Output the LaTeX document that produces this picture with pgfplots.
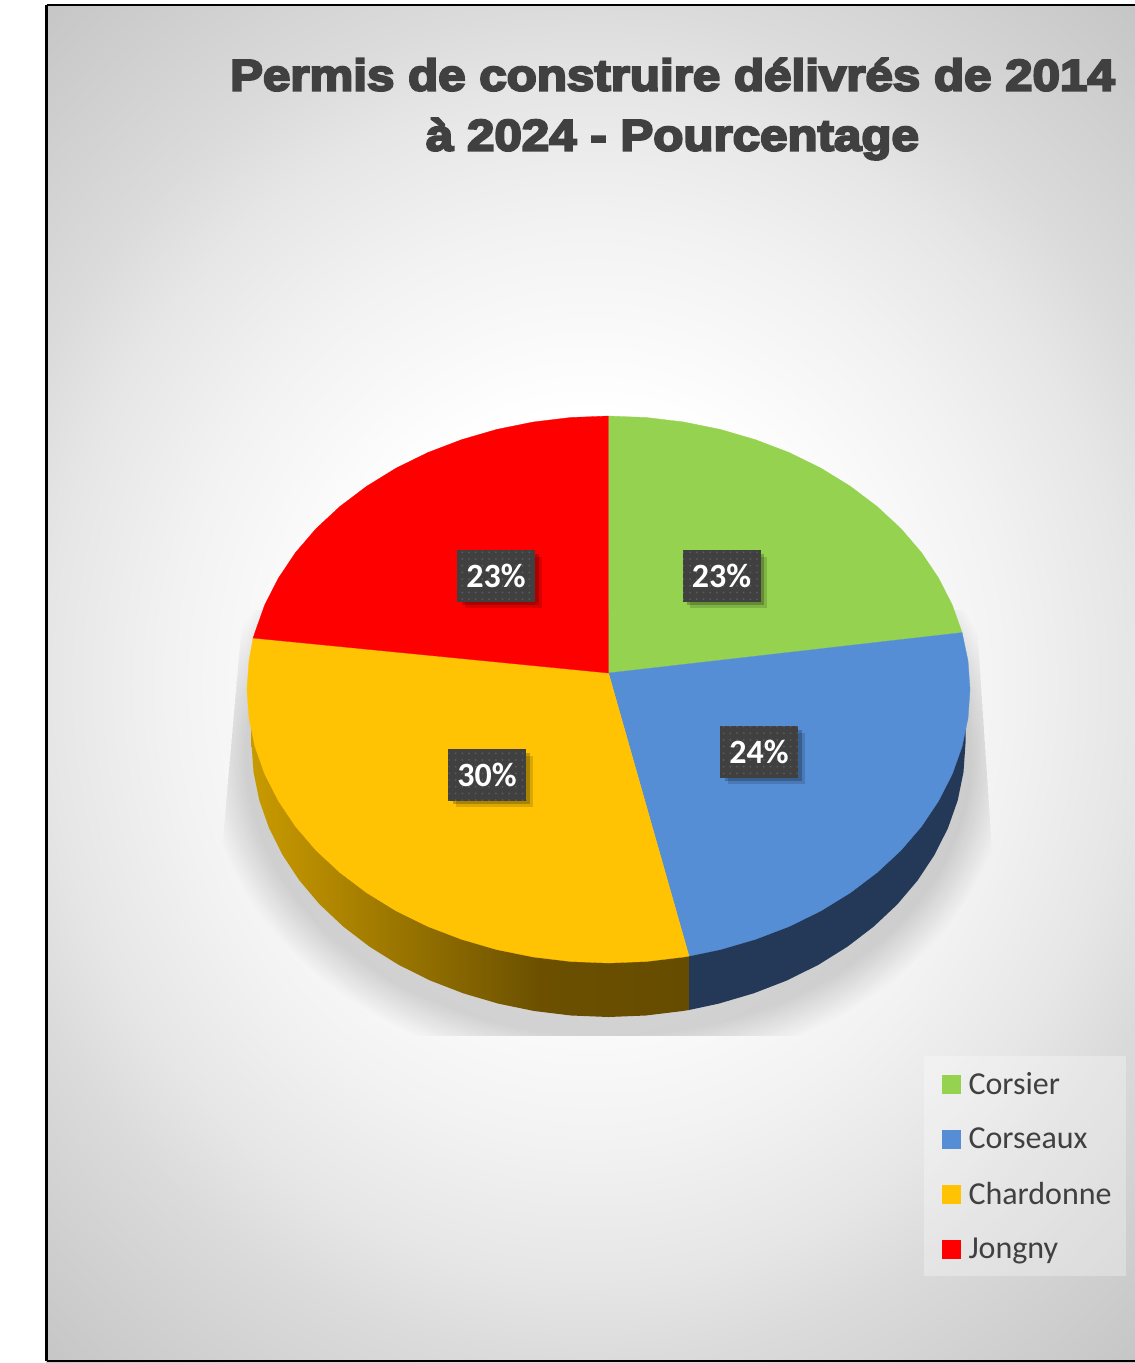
\documentclass[border=0pt]{standalone}
\usepackage{fontspec}
\usepackage{pgfplots}
\pgfplotsset{compat=1.18}
\usetikzlibrary{patterns,shadows}
\setmainfont{Carlito}
\newfontfamily\titlefont[BoldFeatures={FakeBold=5,FakeStretch=1.12}]{Liberation Sans}

\definecolor{corsier}{HTML}{94D250}
\definecolor{corseaux}{HTML}{558ED5}
\definecolor{chardonne}{HTML}{FFC303}
\definecolor{jongny}{HTML}{FF0000}
\definecolor{sideblue}{HTML}{243957}
\definecolor{inkgrey}{HTML}{404040}
\definecolor{sa}{HTML}{C89A00}
\definecolor{sb}{HTML}{B08600}
\definecolor{sc}{HTML}{8F6D00}
\definecolor{sd}{HTML}{6C5000}
\definecolor{se}{HTML}{664C00}
\definecolor{g0}{HTML}{FFFFFF}
\definecolor{g1}{HTML}{F2F2F2}
\definecolor{g2}{HTML}{E6E6E6}
\definecolor{g3}{HTML}{DBDBDB}
\definecolor{g4}{HTML}{C6C6C6}

% page background, bbox half side = 25bp
\pgfdeclareradialshading{pagebg}{\pgfpointorigin}{color(0bp)=(g0); color(10bp)=(g0); color(17bp)=(g1); color(21.9bp)=(g2); color(25bp)=(g3); color(33.2bp)=(g4); color(50bp)=(g4)}
\pgfdeclarehorizontalshading{amberside}{100bp}{color(0bp)=(sa); color(25bp)=(sa); color(34.4bp)=(sb); color(45.4bp)=(sc); color(58bp)=(sd); color(75bp)=(se); color(100bp)=(se)}
\pgfdeclarepatternformonly{labeldots}{\pgfqpoint{-1pt}{-1pt}}{\pgfqpoint{1pt}{1pt}}{\pgfqpoint{6.7pt}{6.7pt}}{\pgfpathcircle{\pgfqpoint{0pt}{0pt}}{1pt}\pgfusepath{fill}}

\begin{document}
\begin{tikzpicture}
\begin{axis}[
    scale only axis,
    width=1135pt, height=1363pt,
    xmin=0, xmax=1135, ymin=0, ymax=1363,
    y dir=reverse,
    hide axis,
    legend style={
        at={(axis cs:942,1070)}, anchor=north west,
        draw=none, fill=none, font=\fontsize{32}{36}\selectfont,
        text=inkgrey, row sep=28pt, inner sep=0pt,
        /tikz/column 1/.style={column sep=6pt},
    },
    legend cell align={left},
    legend image code/.code={\fill[#1] (0pt,-9pt) rectangle (18pt,9pt);},
]
% keeps the white margin in the picture
\path (axis cs:0,0) rectangle (axis cs:1135,1363);
% background
\begin{scope}
\clip (axis cs:46,5) rectangle (axis cs:1135,1362);
\path[shading=pagebg] (axis cs:-30,5) rectangle (axis cs:1210,1362);
\end{scope}

% ground shadow
\begin{scope}
\clip (axis cs:243,610) -- (axis cs:222,850) -- (axis cs:222,1036) -- (axis cs:992,1036) -- (axis cs:992,850) -- (axis cs:976,610) -- cycle;
\pgfplotsinvokeforeach{44,42,...,6}{
  \fill[black,opacity=0.0095] (axis cs:608.5,757) ellipse [x radius={357+#1}, y radius={273.5+#1}];
}
\end{scope}

% sides
\addplot[forget plot, draw=none, shading=amberside] coordinates {
  (689,1010) (682.8,1011) (645.8,1015.5) (608.5,1017) (571.2,1015.5) (534.2,1011)
  (498.2,1003.6) (463.3,993.3) (429.9,980.4) (398.6,964.8) (369.6,946.7) (343.2,926.5)
  (319.6,904.3) (299.3,880.3) (282.4,854.7) (269,828) (259.3,800.4) (253.5,772.1)
  (251.5,743.5) (251.5,700) (689,956)
};
\addplot[forget plot, draw=none, fill=sideblue] coordinates {
  (689,956) (689,1010) (718.8,1003.6) (753.7,993.3) (787.1,980.4) (818.4,964.8)
  (847.4,946.7) (873.8,926.5) (897.4,904.3) (917.7,880.3) (934.6,854.7) (948,828)
  (957.7,800.4) (963.5,772.1) (965.5,743.5) (965.5,700)
};

% top face
\addplot[fill=corsier, draw=corsier, line width=0.3pt] coordinates {
  (608.5,673) (608.5,416) (646.3,417.5) (683.7,422) (720.2,429.4) (755.5,439.7)
  (789.3,452.6) (821,468.2) (850.4,486.3) (877.1,506.5) (901,528.7) (921.6,552.7)
  (938.7,578.3) (952.3,605) (962.1,632.6)
};
\addlegendentry{Corsier}
\addplot[fill=corseaux, draw=corseaux, line width=0.3pt] coordinates {
  (608.5,673) (962.1,632.6) (968,660.9) (970,689.5) (968,718.1) (962.1,746.4)
  (952.3,774) (938.7,800.7) (921.6,826.3) (901,850.3) (877.1,872.5) (850.4,892.7)
  (821,910.8) (789.3,926.4) (755.5,939.3) (720.2,949.6) (689,956.1)
};
\addlegendentry{Corseaux}
\addplot[fill=chardonne, draw=chardonne, line width=0.3pt] coordinates {
  (608.5,673) (689,956.1) (683.7,957) (646.3,961.5) (608.5,963) (570.7,961.5)
  (533.3,957) (496.8,949.6) (461.5,939.3) (427.7,926.4) (396,910.8) (366.6,892.7)
  (339.9,872.5) (316,850.3) (295.4,826.3) (278.3,800.7) (264.7,774) (254.9,746.4)
  (249,718.1) (247,689.5) (249,660.9) (253.1,638)
};
\addlegendentry{Chardonne}
\addplot[fill=jongny, draw=jongny, line width=0.3pt] coordinates {
  (608.5,673) (253.1,638) (254.9,632.6) (264.7,605) (278.3,578.3) (295.4,552.7)
  (316,528.7) (339.9,506.5) (366.6,486.3) (396,468.2) (427.7,452.6) (461.5,439.7)
  (496.8,429.4) (533.3,422) (570.7,417.5) (608.5,416)
};
\addlegendentry{Jongny}

% value labels
\addplot[forget plot, only marks, mark=none, draw=none, point meta=explicit symbolic,
    nodes near coords={\raisebox{-1pt}{\pgfplotspointmeta\%}},
    every node near coord/.style={
        anchor=center, draw=inkgrey, line width=0.2pt, fill=inkgrey, text=white, minimum width=77pt, minimum height=51pt,
        inner sep=0pt, font=\fontsize{34}{36}\selectfont\bfseries,
        drop shadow={shadow xshift=7pt, shadow yshift=-7pt, opacity=0.14, fill=black, draw=none},
        drop shadow={shadow xshift=4pt, shadow yshift=-4pt, opacity=0.22, fill=black, draw=none},
        postaction={draw=none, pattern=labeldots, pattern color=white!14!inkgrey},
    }] table [meta=value] {
x y value
721.5 575.5 23
496 575.5 23
759 751.5 24
487 774.5 30
};

% title
\node[font=\titlefont\bfseries\fontsize{44}{60}\selectfont, text=inkgrey, align=center]
  at (axis cs:672.5,109) {Permis de construire délivrés de 2014\\à 2024 - Pourcentage};

% legend panel
\fill[white,opacity=0.3] (axis cs:924,1056) rectangle (axis cs:1126,1276);

% chart frame
\draw[black,line width=2.6pt] (axis cs:46.5,5) -- (axis cs:1150,5) (axis cs:46.5,1361) -- (axis cs:1150,1361) (axis cs:46.5,5) -- (axis cs:46.5,1361);
\end{axis}
\end{tikzpicture}
\end{document}
